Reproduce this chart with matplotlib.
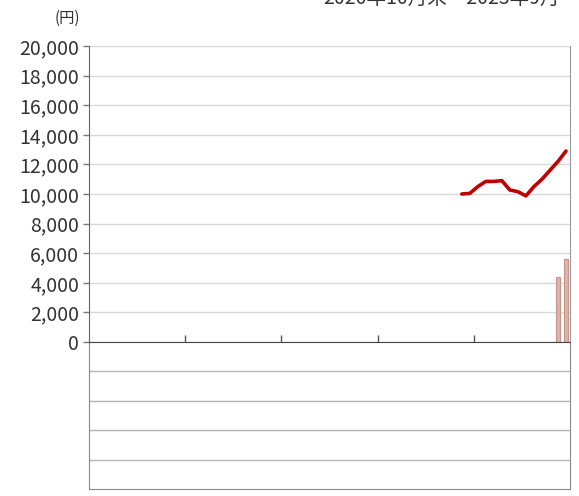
import numpy as np
import matplotlib
matplotlib.use("Agg")
import matplotlib.pyplot as plt

plt.rcParams['font.family'] = ['Noto Sans CJK JP', 'DejaVu Sans']

# monthly index on a 60-month axis
line_months = [46, 47, 48, 49, 50, 51, 52, 53, 54, 55, 56, 57, 58, 59]
line_values = [10000, 10040, 10500, 10850, 10850, 10900, 10270, 10160, 9870,
               10500, 11000, 11600, 12200, 12900]
bar_months = [58, 59]
bar_values = [4400, 5600]
yticks = [0, 2000, 4000, 6000, 8000, 10000, 12000, 14000, 16000, 18000, 20000]
ytick_labels = ["{:,}".format(v) for v in yticks]
year_ticks = [11.5, 23.5, 35.5, 47.5]
title = "2020年10月末～2023年9月"

fig = plt.figure(figsize=(5.79, 4.96), dpi=100)
W, H = 579, 496

# lower empty panel (drawn first, under the main one)
ax2 = fig.add_axes([89 / W, 1 - 489 / H, 481 / W, 147 / H])
ax2.set_xlim(0, 1)
ax2.set_ylim(0, 5)
ax2.set_xticks([])
ax2.set_yticks([1, 2, 3, 4])
ax2.set_yticklabels([])
ax2.tick_params(axis='y', length=0)
ax2.yaxis.grid(True, color='#b5b5b5', linewidth=1)
for s in ax2.spines.values():
    s.set_color('#888888')
ax2.spines['top'].set_visible(False)

# main panel
ax = fig.add_axes([89 / W, 1 - 342 / H, 481 / W, 296 / H])
ax.patch.set_alpha(0)
ax.set_xlim(-0.5, 59.5)
ax.set_ylim(0, 20000)
ax.set_yticks(yticks)
ax.set_yticklabels(ytick_labels, fontsize=14, color='#333333')
ax.yaxis.grid(True, color='#d9d9d9', linewidth=1)
ax.set_axisbelow(True)
ax.set_xticks(year_ticks)
ax.set_xticklabels([])
ax.tick_params(axis='x', direction='in', length=5, color='#555555', width=1)
ax.tick_params(axis='y', direction='out', length=4, color='#777777', width=1, pad=3)
ax.spines['top'].set_visible(False)
ax.spines['left'].set_color('#666666')
ax.spines['bottom'].set_color('#444444')
ax.spines['bottom'].set_zorder(5)
ax.spines['right'].set_color('#999999')

ax.bar(bar_months, bar_values, width=0.6, color='#dbb4ab', edgecolor='#c4938a',
       linewidth=0.8, zorder=2)
ax.plot(line_months, line_values, color='#c00000', linewidth=2.6, zorder=3,
        solid_capstyle='round', solid_joinstyle='round')

fig.text(80 / W, 1 - 18 / H, "(円)", fontsize=11, ha='right', va='center',
         color='#333333')
fig.text(560 / W, 1.003, title, fontsize=14, ha='right', va='center',
         color='#333333')

fig.savefig("out.png", dpi=100)
